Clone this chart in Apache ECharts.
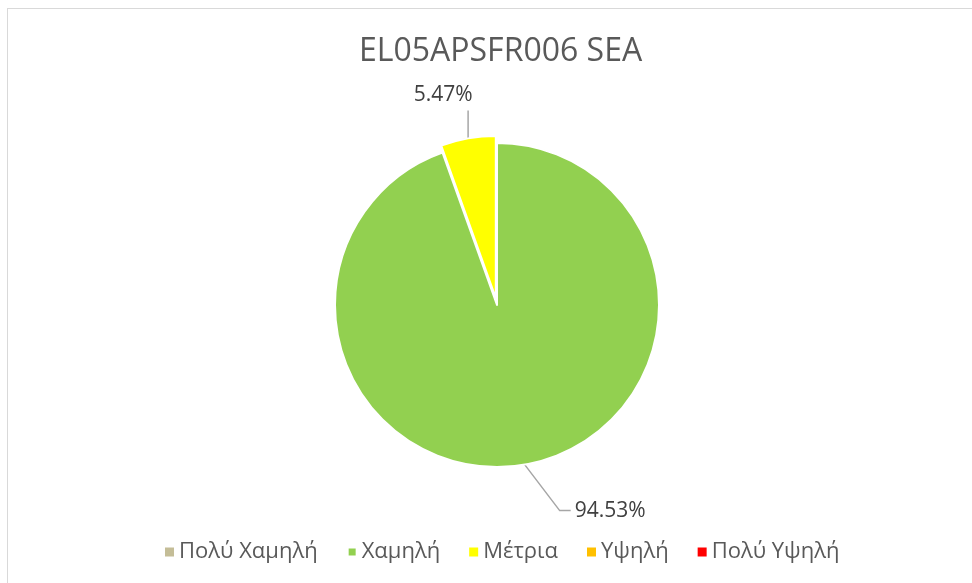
<!DOCTYPE html>
<html>
<head>
<meta charset="utf-8">
<script src="https://cdn.jsdelivr.net/npm/echarts@6/dist/echarts.min.js"></script>
<style>
  html, body { margin: 0; padding: 0; background: #fff; }
  #frame {
    position: absolute; left: 7px; top: 8px; width: 980px; height: 600px;
    border-left: 1px solid #d9d9d9; border-top: 1px solid #d9d9d9;
  }
  #chart { position: absolute; left: 0; top: 0; width: 972px; height: 583px; }
</style>
</head>
<body>
<div id="frame"></div>
<div id="chart"></div>
<script>
const categories = ['Πολύ Χαμηλή', 'Χαμηλή', 'Μέτρια', 'Υψηλή', 'Πολύ Υψηλή'];
const values = [0, 94.53, 5.47, 0, 0];
const colors = ['#C4BD97', '#92D050', '#FFFF00', '#FFC000', '#FF0000'];
const exploded = 'Μέτρια';

const chart = echarts.init(document.getElementById('chart'));

const center = [497, 305];
const radius = 162;
const explodeBy = 7;

// direction of the exploded slice (clockwise from 12 o'clock)
const total = values.reduce((a, b) => a + b, 0);
const ei = categories.indexOf(exploded);
const before = values.slice(0, ei).reduce((a, b) => a + b, 0);
const mid = (before + values[ei] / 2) / total * Math.PI * 2;
const shifted = [center[0] + Math.sin(mid) * explodeBy, center[1] - Math.cos(mid) * explodeBy];

const labelFont = { fontFamily: 'Open Sans', fontSize: 21, color: '#404040' };
const lineStyle = { color: '#a6a6a6', width: 1.5 };

// series 0 draws everything except the exploded slice, series 1 only that slice
function buildData(onlyExploded) {
  return categories.map((name, i) => {
    const own = (name === exploded) === onlyExploded;
    const item = { name: name, value: values[i] };
    if (own && values[i] > 0) {
      item.itemStyle = { color: colors[i] };
    } else {
      item.itemStyle = { color: 'rgba(0,0,0,0)', borderWidth: 0 };
      item.label = { show: false };
      item.labelLine = { show: false };
    }
    return item;
  });
}

function layoutLabel(params) {
  const pts = params.labelLinePoints;
  if (!pts) return {};
  const p0 = pts[0];
  if (categories[params.dataIndex] === exploded) {
    return {
      x: p0[0] - 25, y: p0[1] - 43, align: 'center', verticalAlign: 'middle',
      labelLinePoints: [p0, [p0[0], p0[1] - 28], [p0[0], p0[1] - 28]]
    };
  }
  return {
    x: p0[0] + 50, y: p0[1] + 46, align: 'left', verticalAlign: 'middle',
    labelLinePoints: [p0, [p0[0] + 35, p0[1] + 46], [p0[0] + 46, p0[1] + 46]]
  };
}

function pieSeries(c, onlyExploded) {
  return {
    type: 'pie',
    center: c,
    radius: radius,
    startAngle: 90,
    clockwise: true,
    avoidLabelOverlap: false,
    silent: true,
    emphasis: { disabled: true },
    itemStyle: { borderColor: '#fff', borderWidth: 2 },
    label: Object.assign({ show: true, formatter: p => p.value.toFixed(2) + '%' }, labelFont),
    labelLine: { show: true, lineStyle: lineStyle },
    labelLayout: layoutLabel,
    data: buildData(onlyExploded)
  };
}

chart.setOption({
  animation: false,
  title: {
    text: 'EL05APSFR006 SEA',
    left: 354,
    top: 31,
    textStyle: { fontFamily: 'Open Sans', fontSize: 32, fontWeight: 'normal', color: '#595959' }
  },
  legend: {
    top: 536,
    left: 160,
    icon: 'rect',
    itemWidth: 9,
    itemHeight: 9,
    itemGap: 29,
    selectedMode: false,
    data: categories.map((name, i) => ({ name: name, itemStyle: { color: colors[i] } })),
    textStyle: { fontFamily: 'Open Sans', fontSize: 22, color: '#595959' }
  },
  series: [pieSeries(center, false), pieSeries(shifted, true)]
});
</script>
</body>
</html>
